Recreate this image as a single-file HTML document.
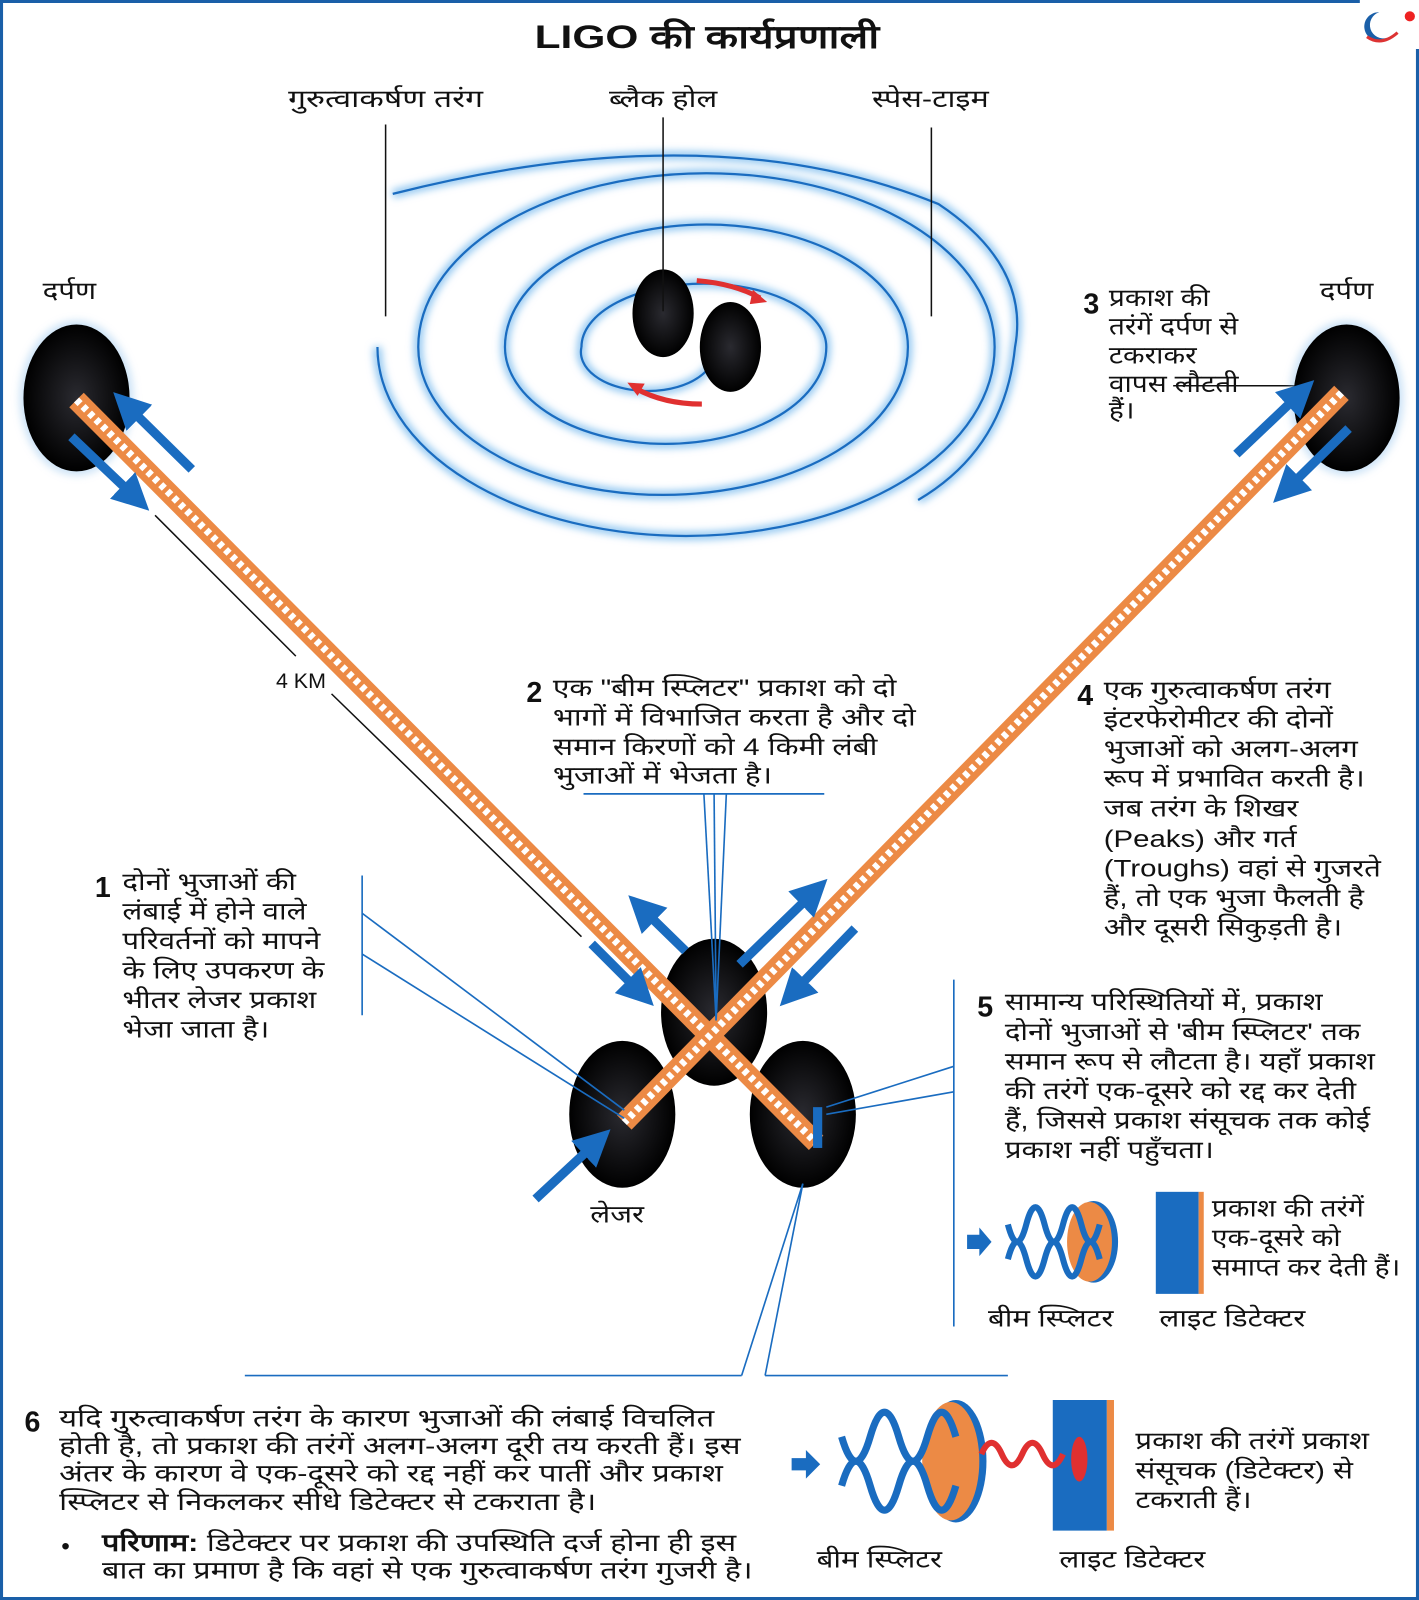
<!DOCTYPE html>
<html><head><meta charset="utf-8"><style>
html,body{margin:0;padding:0;background:#fff}
svg{display:block}
text{font-family:"Liberation Sans","DejaVu Sans","Noto Sans CJK SC",sans-serif;fill:#111}
.t{font-size:24px}
.b{font-weight:bold}
.n{font-size:28px;font-weight:bold}
</style></head><body>
<svg width="1419" height="1600" viewBox="0 0 1391 1568" preserveAspectRatio="none" xmlns="http://www.w3.org/2000/svg">
<defs>
<filter id="gl" x="-20%" y="-20%" width="140%" height="140%"><feGaussianBlur stdDeviation="4"/></filter>
<radialGradient id="bh" cx="50%" cy="50%" r="50%"><stop offset="0" stop-color="#2a2a30"/><stop offset="1" stop-color="#000"/></radialGradient>
<marker id="ah" markerWidth="4" markerHeight="4" refX="1.5" refY="2" orient="auto"><path d="M0,0 L4,2 L0,4 z" fill="#1a6cc0"/></marker>
</defs>
<path d="M1333,1.5 H1.5 V1566.5 H1389.5 V48" fill="none" stroke="#1a5fa8" stroke-width="3"/>
<path d="M1352,12 a14,14 0 1 0 8,25 a12,12 0 0 1 -8,-25z" fill="#1a5fa8"/>
<path d="M1340,36 q14,10 30,-4" fill="none" stroke="#d33" stroke-width="3"/>
<circle cx="1382" cy="16" r="5" fill="#e22"/>
<text x="693" y="47" text-anchor="middle" transform="translate(693,0) scale(1.3,1) translate(-693,0)" style="font-size:32px;font-weight:bold">LIGO की कार्यप्रणाली</text>

<g fill="none">
<path d="M570,340 A120,62 0 0 1 810,340 A157.5,95 0 0 1 495,340 A197.5,120 0 0 1 890,340 A240,145 0 0 1 410,340 A282,170 0 0 1 975,340 A302,185 0 0 1 370,340 M385,190 Q700,110 920,200 Q1010,260 995,340 Q985,440 900,490 M570,340 A60,35 0 0 0 700,350" stroke="#8cc4f0" stroke-width="8" filter="url(#gl)"/>
<path d="M570,340 A120,62 0 0 1 810,340 A157.5,95 0 0 1 495,340 A197.5,120 0 0 1 890,340 A240,145 0 0 1 410,340 A282,170 0 0 1 975,340 A302,185 0 0 1 370,340 M385,190 Q700,110 920,200 Q1010,260 995,340 Q985,440 900,490 M570,340 A60,35 0 0 0 700,350" stroke="#1a6cc0" stroke-width="2.2"/>
</g>
<ellipse cx="650" cy="307" rx="30" ry="43" fill="url(#bh)"/>
<ellipse cx="716" cy="340" rx="30" ry="44" fill="url(#bh)"/>
<path d="M683,275 Q720,278 745,292" stroke="#e03030" stroke-width="5" fill="none"/><path d="M752,296 l-14,-12 l-3,14z" fill="#e03030"/>
<path d="M688,396 Q650,396 622,380" stroke="#e03030" stroke-width="5" fill="none"/><path d="M615,375 l17,1 l-7,12z" fill="#e03030"/>

<g stroke="#111" stroke-width="1.5">
<line x1="378" y1="122" x2="378" y2="310"/><line x1="650" y1="115" x2="650" y2="305"/><line x1="913" y1="125" x2="913" y2="310"/>
<line x1="1150" y1="378" x2="1310" y2="378"/>
<line x1="152" y1="505" x2="290" y2="643"/><line x1="325" y1="680" x2="570" y2="918"/>
</g>
<text class="t" x="378" y="105" text-anchor="middle" transform="translate(378,0) scale(1.3,1) translate(-378,0)">गुरुत्वाकर्षण तरंग</text>
<text class="t" x="650" y="105" text-anchor="middle" transform="translate(650,0) scale(1.25,1) translate(-650,0)">ब्लैक होल</text>
<text class="t" x="912" y="105" text-anchor="middle" transform="translate(912,0) scale(1.25,1) translate(-912,0)">स्पेस-टाइम</text>
<text class="t" x="68" y="293" text-anchor="middle" transform="translate(68,0) scale(1.2,1) translate(-68,0)">दर्पण</text>
<text class="t" x="1320" y="293" text-anchor="middle" transform="translate(1320,0) scale(1.2,1) translate(-1320,0)">दर्पण</text>
<text class="t" x="295" y="674" text-anchor="middle" style="font-size:21px">4 KM</text>

<g>
<ellipse cx="75" cy="390" rx="56" ry="76" fill="#9cc8ee" opacity=".5" filter="url(#gl)"/>
<ellipse cx="75" cy="390" rx="52" ry="72" fill="url(#bh)"/>
<ellipse cx="1320" cy="390" rx="56" ry="76" fill="#9cc8ee" opacity=".5" filter="url(#gl)"/>
<ellipse cx="1320" cy="390" rx="52" ry="72" fill="url(#bh)"/>
<ellipse cx="700" cy="992" rx="52" ry="72" fill="url(#bh)"/>
<ellipse cx="610" cy="1092" rx="52" ry="72" fill="url(#bh)"/>
<ellipse cx="787" cy="1092" rx="52" ry="72" fill="url(#bh)"/>
</g>
<g stroke-linecap="butt">
<line x1="75" y1="392" x2="800" y2="1120" stroke="#ec8a45" stroke-width="20"/>
<line x1="75" y1="392" x2="800" y2="1120" stroke="#fff" stroke-width="7" stroke-dasharray="5 4"/>
<line x1="1315" y1="385" x2="612" y2="1100" stroke="#ec8a45" stroke-width="20"/>
<line x1="1315" y1="385" x2="612" y2="1100" stroke="#fff" stroke-width="7" stroke-dasharray="5 4"/>
</g>
<rect x="797" y="1085" width="9" height="40" fill="#1a6cc0"/>
<g stroke="#1a6cc0" stroke-width="9" marker-end="url(#ah)">
<line x1="580" y1="925" x2="625" y2="970"/><line x1="672" y1="932" x2="632" y2="893"/>
<line x1="725" y1="945" x2="795" y2="877"/><line x1="838" y1="910" x2="780" y2="970"/>
<line x1="188" y1="460" x2="127" y2="400"/><line x1="70" y1="428" x2="130" y2="485"/>
<line x1="1212" y1="445" x2="1272" y2="388"/><line x1="1322" y1="420" x2="1264" y2="477"/>
<line x1="525" y1="1175" x2="582" y2="1122"/>
</g>
<text class="t" x="605" y="1198" text-anchor="middle" transform="translate(605,0) scale(1.2,1) translate(-605,0)">लेजर</text>

<g stroke="#1a6cc0" stroke-width="1.6" fill="none">
<line x1="572" y1="778" x2="808" y2="778"/>
<line x1="700" y1="778" x2="702" y2="1000"/><line x1="712" y1="778" x2="702" y2="1000"/><line x1="690" y1="778" x2="702" y2="1000"/>
<line x1="355" y1="858" x2="355" y2="995"/><line x1="355" y1="895" x2="612" y2="1088"/><line x1="355" y1="935" x2="612" y2="1096"/>
<line x1="935" y1="960" x2="935" y2="1300"/><line x1="935" y1="1045" x2="810" y2="1085"/><line x1="935" y1="1070" x2="810" y2="1092"/>
<line x1="787" y1="1160" x2="727" y2="1348"/><line x1="787" y1="1160" x2="750" y2="1348"/>
<line x1="240" y1="1348" x2="727" y2="1348"/><line x1="750" y1="1348" x2="988" y2="1348"/>
</g>

<text class="n" x="1062" y="307">3</text>
<g class="t" transform="translate(1087,0) scale(1.15,1) translate(-1087,0)"><text x="1087" y="300">प्रकाश की</text><text x="1087" y="328">तरंगें दर्पण से</text><text x="1087" y="356">टकराकर</text><text x="1087" y="384">वापस लौटती</text><text x="1087" y="410">हैं।</text></g>

<text class="n" x="516" y="688">2</text>
<g class="t" transform="translate(542,0) scale(1.22,1) translate(-542,0)"><text x="542" y="682">एक "बीम स्प्लिटर" प्रकाश को दो</text><text x="542" y="711">भागों में विभाजित करता है और दो</text><text x="542" y="740">समान किरणों को 4 किमी लंबी</text><text x="542" y="768">भुजाओं में भेजता है।</text></g>

<text class="n" x="1056" y="691">4</text>
<g class="t" transform="translate(1082,0) scale(1.2,1) translate(-1082,0)"><text x="1082" y="684">एक गुरुत्वाकर्षण तरंग</text><text x="1082" y="713">इंटरफेरोमीटर की दोनों</text><text x="1082" y="742">भुजाओं को अलग-अलग</text><text x="1082" y="771">रूप में प्रभावित करती है।</text><text x="1082" y="800">जब तरंग के शिखर</text><text x="1082" y="830">(Peaks) और गर्त</text><text x="1082" y="859">(Troughs) वहां से गुजरते</text><text x="1082" y="888">हैं, तो एक भुजा फैलती है</text><text x="1082" y="917">और दूसरी सिकुड़ती है।</text></g>

<text class="n" x="93" y="879">1</text>
<g class="t" transform="translate(120,0) scale(1.2,1) translate(-120,0)"><text x="120" y="872">दोनों भुजाओं की</text><text x="120" y="901">लंबाई में होने वाले</text><text x="120" y="930">परिवर्तनों को मापने</text><text x="120" y="959">के लिए उपकरण के</text><text x="120" y="988">भीतर लेजर प्रकाश</text><text x="120" y="1017">भेजा जाता है।</text></g>

<text class="n" x="958" y="996">5</text>
<g class="t" transform="translate(985,0) scale(1.2,1) translate(-985,0)"><text x="985" y="990">सामान्य परिस्थितियों में, प्रकाश</text><text x="985" y="1019">दोनों भुजाओं से 'बीम स्प्लिटर' तक</text><text x="985" y="1048">समान रूप से लौटता है। यहाँ प्रकाश</text><text x="985" y="1077">की तरंगें एक-दूसरे को रद्द कर देती</text><text x="985" y="1106">हैं, जिससे प्रकाश संसूचक तक कोई</text><text x="985" y="1135">प्रकाश नहीं पहुँचता।</text></g>

<path d="M948,1210 h12 v-7 l12,14 l-12,14 v-7 h-12z" fill="#1a6cc0"/>
<ellipse cx="1072" cy="1217" rx="24" ry="40" fill="#1a6cc0"/>
<ellipse cx="1068" cy="1217" rx="22" ry="39" fill="#ec8a45"/>
<g fill="none" stroke="#1a6cc0" stroke-width="6">
<path d="M988,1200 q9,34 18,0 q9,-34 18,0 q9,34 18,0 q9,-34 18,0 q9,34 18,0"/>
<path d="M988,1234 q9,-34 18,0 q9,34 18,0 q9,-34 18,0 q9,34 18,0 q9,-34 18,0"/>
</g>
<rect x="1133" y="1168" width="42" height="100" fill="#1a6cc0"/><rect x="1175" y="1168" width="5" height="100" fill="#ec8a45"/>
<g class="t" transform="translate(1188,0) scale(1.15,1) translate(-1188,0)"><text x="1188" y="1192">प्रकाश की तरंगें</text><text x="1188" y="1221">एक-दूसरे को</text><text x="1188" y="1250">समाप्त कर देती हैं।</text></g>
<text class="t" x="1030" y="1300" text-anchor="middle" transform="translate(1030,0) scale(1.2,1) translate(-1030,0)">बीम स्प्लिटर</text>
<text class="t" x="1208" y="1300" text-anchor="middle" transform="translate(1208,0) scale(1.2,1) translate(-1208,0)">लाइट डिटेक्टर</text>

<text class="n" x="24" y="1403">6</text>
<g class="t" transform="translate(58,0) scale(1.27,1) translate(-58,0)"><text x="58" y="1398">यदि गुरुत्वाकर्षण तरंग के कारण भुजाओं की लंबाई विचलित</text><text x="58" y="1425">होती है, तो प्रकाश की तरंगें अलग-अलग दूरी तय करती हैं। इस</text><text x="58" y="1452">अंतर के कारण वे एक-दूसरे को रद्द नहीं कर पातीं और प्रकाश</text><text x="58" y="1480">स्प्लिटर से निकलकर सीधे डिटेक्टर से टकराता है।</text></g>
<text class="t" x="60" y="1523">•</text>
<g class="t" transform="translate(100,0) scale(1.25,1) translate(-100,0)"><text x="100" y="1520"><tspan class="b">परिणाम:</tspan> डिटेक्टर पर प्रकाश की उपस्थिति दर्ज होना ही इस</text><text x="100" y="1547">बात का प्रमाण है कि वहां से एक गुरुत्वाकर्षण तरंग गुजरी है।</text></g>

<path d="M776,1429 h14 v-8 l14,14 l-14,14 v-8 h-14z" fill="#1a6cc0"/>
<ellipse cx="937" cy="1432" rx="30" ry="60" fill="#1a6cc0"/>
<ellipse cx="932" cy="1432" rx="28" ry="58" fill="#ec8a45"/>
<g fill="none" stroke="#1a6cc0" stroke-width="7">
<path d="M825,1408 q14,48 28,0 q14,-48 28,0 q14,48 28,0 q14,-48 28,0"/>
<path d="M825,1456 q14,-48 28,0 q14,48 28,0 q14,-48 28,0 q14,48 28,0"/>
</g>
<rect x="1032" y="1372" width="53" height="128" fill="#1a6cc0"/><rect x="1085" y="1372" width="7" height="128" fill="#ec8a45"/>
<path d="M962,1425 q10,-22 20,0 q10,22 20,0 q10,-22 20,0 q10,22 20,0" fill="none" stroke="#e03030" stroke-width="6"/>
<ellipse cx="1058" cy="1430" rx="8" ry="22" fill="#e03030"/>
<g class="t" transform="translate(1113,0) scale(1.2,1) translate(-1113,0)"><text x="1113" y="1420">प्रकाश की तरंगें प्रकाश</text><text x="1113" y="1449">संसूचक (डिटेक्टर) से</text><text x="1113" y="1478">टकराती हैं।</text></g>
<text class="t" x="862" y="1536" text-anchor="middle" transform="translate(862,0) scale(1.2,1) translate(-862,0)">बीम स्प्लिटर</text>
<text class="t" x="1110" y="1536" text-anchor="middle" transform="translate(1110,0) scale(1.2,1) translate(-1110,0)">लाइट डिटेक्टर</text>
</svg>
</body></html>
